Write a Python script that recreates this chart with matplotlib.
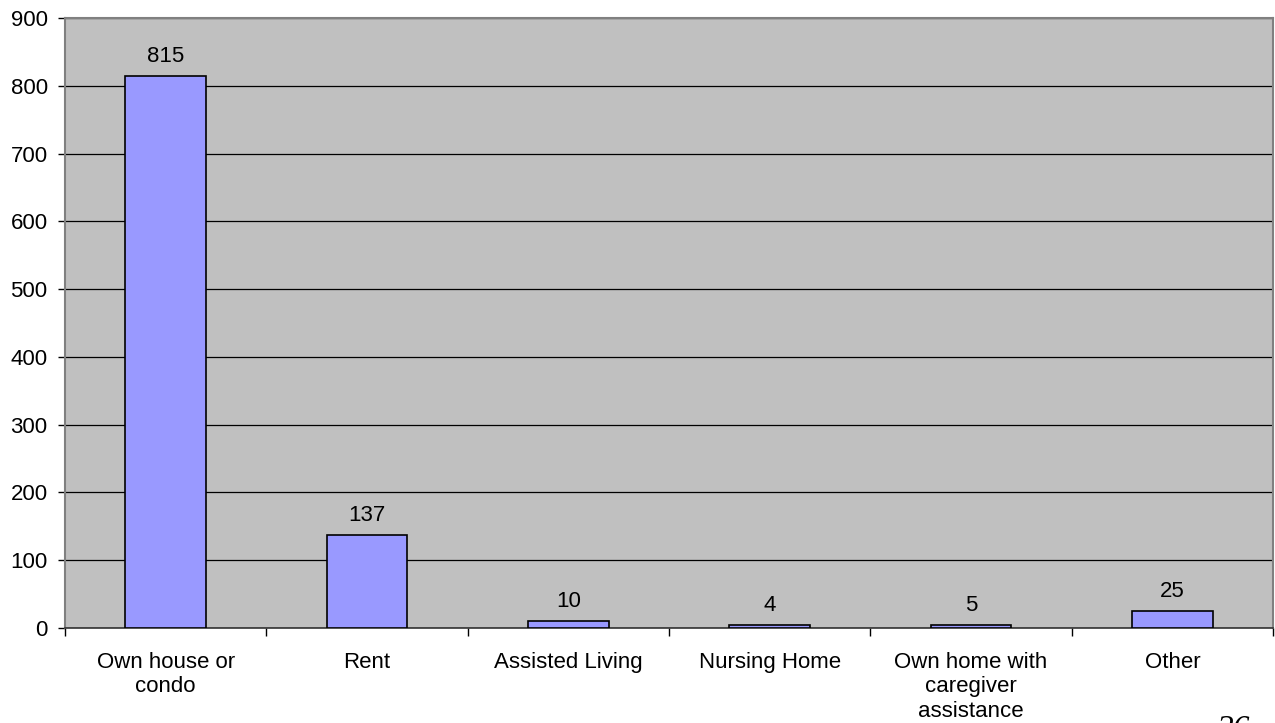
import numpy as np
import matplotlib
matplotlib.use('Agg')
from matplotlib import pyplot as plt

categories = ['Own house or\ncondo', 'Rent', 'Assisted Living', 'Nursing Home',
              'Own home with\ncaregiver\nassistance', 'Other']
counts = [815, 137, 10, 4, 5, 25]
yticks = [0, 100, 200, 300, 400, 500, 600, 700, 800, 900]

plt.rcParams['font.family'] = ['Liberation Sans', 'DejaVu Sans']

fig = plt.figure(figsize=(12.75, 7.23), dpi=100)
ax = fig.add_axes([65/1275, 1 - 628/723, (1273-65)/1275, (628-18)/723])
ax.set_facecolor('#C0C0C0')

x = np.arange(len(categories))
ax.bar(x, counts, width=0.4, color='#9999FF', edgecolor='black', linewidth=1.2, zorder=3)

for xi, v in zip(x, counts):
    ax.annotate(str(v), (xi, v), xytext=(0, 6.5), textcoords='offset points',
                ha='center', va='bottom', fontsize=16)

ax.set_xlim(-0.5, len(categories) - 0.5)
ax.set_ylim(0, 900)
ax.set_yticks(yticks)
ax.tick_params(axis='y', labelsize=16, length=5, width=1, direction='out', pad=7.5)
ax.yaxis.grid(True, color='black', linewidth=0.9, zorder=1)
ax.set_axisbelow(True)

# category labels without ticks, tick marks at category boundaries
ax.set_xticks(x)
ax.set_xticklabels(categories, fontsize=16, linespacing=1.22)
ax.tick_params(axis='x', length=0, pad=17)
ax.set_xticks(np.arange(-0.5, len(categories)), minor=True)
ax.tick_params(axis='x', which='minor', length=6, width=1, color='black')

for side in ['left', 'top', 'right']:
    ax.spines[side].set_color('#808080')
    ax.spines[side].set_linewidth(1.5)
ax.spines['bottom'].set_color('#333333')
ax.spines['bottom'].set_linewidth(1.2)

# page number, mostly cut off at the bottom of the page
fig.text(1217/1275, 1 - 715/723, '26', fontsize=24, style='italic',
         family=['Liberation Serif', 'DejaVu Serif'], ha='left', va='top')

fig.savefig('out.png', dpi=100)
